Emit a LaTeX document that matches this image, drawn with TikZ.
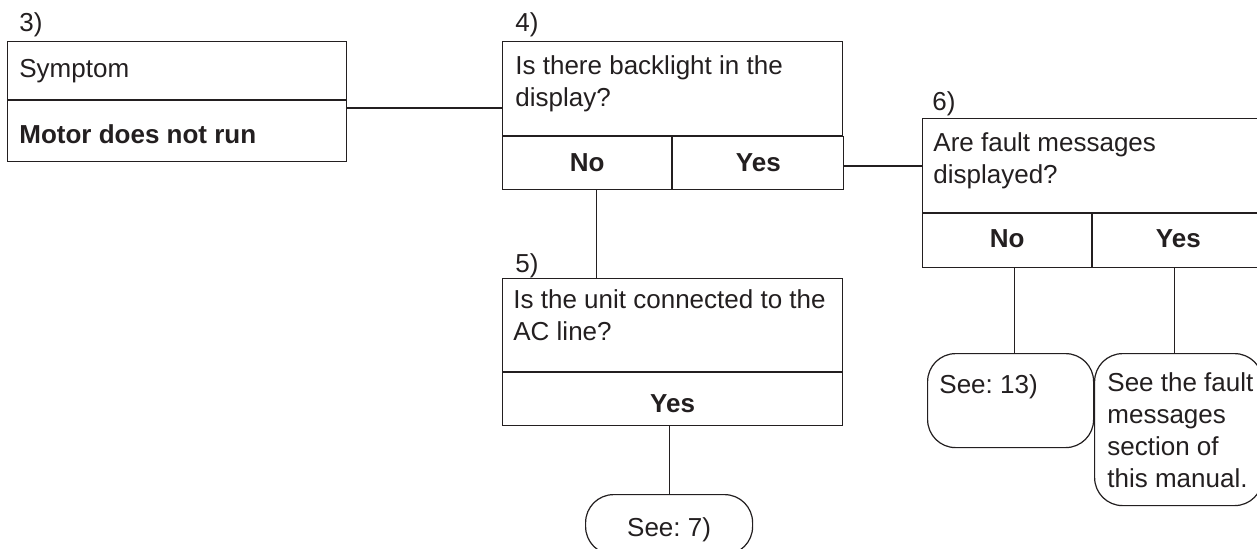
\documentclass[tikz,border=0pt]{standalone}
\usepackage{fontspec}
\setmainfont{Liberation Sans}
\usetikzlibrary{positioning}
\newcommand\flowfont{\fontsize{13pt}{16pt}\selectfont}
\frenchspacing
\definecolor{ink}{HTML}{231F20}
\tikzset{
  frame/.style={draw=ink, line width=0.6pt, inner sep=0pt, anchor=north west},
  endbox/.style={frame, rounded corners=14pt},
  txt/.style={anchor=base west, inner sep=0pt, align=left, text=ink, font=\flowfont},
  ans/.style={anchor=base, inner sep=0pt, text=ink, font=\flowfont\bfseries},
  link/.style={draw=ink, line width=0.6pt},
}

\begin{document}
\begin{tikzpicture}[x=0.5pt, y=-0.5pt]
% --- knobs ---
\def\boxw{170pt}   % width of a question box
\def\cellh{26.5pt} % height of an answer row

\useasboundingbox (0,0) rectangle (1257,548);
\fill[white] (0,0) rectangle (1257,548);
\clip (0,0) rectangle (1257,548);

% --- 3) symptom ---
\node[frame, minimum width=169.5pt, minimum height=29pt] (q3) at (7,41) {};
\node[frame, minimum width=169.5pt, minimum height=30.5pt] (a3) at (q3.south west) {};
\node[txt] (n3) at ([shift={(12,-10)}]q3.north west) {3)};
\node[txt] (t3) at ([shift={(12,36)}]q3.north west) {Symptom};
\node[txt, font=\flowfont\bfseries] (m3) at ([shift={(12,43)}]a3.north west) {Motor does not run};

% --- 4) backlight ---
\node[frame, minimum width=\boxw, minimum height=47pt] (q4) at (502,41) {};
\node[frame, minimum width=84.5pt, minimum height=\cellh] (no4) at (q4.south west) {};
\node[frame, minimum width=85.5pt, minimum height=\cellh] (yes4) at (no4.north east) {};
\node[txt] (n4) at ([shift={(13,-10)}]q4.north west) {4)};
\node[txt] (t4) at ([shift={(13,65)}]q4.north west) {Is there backlight in the\\display?};
\node[ans] at ([shift={(0,35)}]no4.north) {No};
\node[ans] at ([shift={(0,35)}]yes4.north) {Yes};

% --- 5) AC line ---
\node[frame, minimum width=\boxw, minimum height=46.5pt] (q5) at (502,278) {};
\node[frame, minimum width=\boxw, minimum height=\cellh] (yes5) at (q5.south west) {};
\node[txt] (n5) at ([shift={(13,-6)}]q5.north west) {5)};
\node[txt] (t5) at ([shift={(11,62)}]q5.north west) {Is the unit connected to the\\AC line?};
\node[ans] at ([shift={(0,40)}]yes5.north) {Yes};

% --- 6) fault messages ---
\node[frame, minimum width=\boxw, minimum height=47pt] (q6) at (922,118) {};
\node[frame, minimum width=84.5pt, minimum height=27pt] (no6) at (q6.south west) {};
\node[frame, minimum width=85.5pt, minimum height=27pt] (yes6) at (no6.north east) {};
\node[txt] (n6) at ([shift={(10,-8)}]q6.north west) {6)};
\node[txt] (t6) at ([shift={(11,65)}]q6.north west) {Are fault messages\\displayed?};
\node[ans] at ([shift={(0,34)}]no6.north) {No};
\node[ans] at ([shift={(0,34)}]yes6.north) {Yes};

% --- end boxes ---
\node[endbox, minimum width=83pt, minimum height=47pt] (see13) at (927,353) {};
\node[txt] at ([shift={(12,40)}]see13.north west) {See: 13)};
\node[endbox, minimum width=84pt, minimum height=76pt] (fault) at (1094,353) {};
\node[txt] at ([shift={(13,134)}]fault.north west) {See the fault\\messages\\section of\\this manual.};
\node[endbox, minimum width=83.5pt, minimum height=30pt] (see7) at (585,494) {};
\node[ans, font=\flowfont] at ([shift={(0,42)}]see7.north) {See: 7)};

% --- connectors ---
\coordinate (j34) at (0,108);
\coordinate (j46) at (0,166);
\draw[link] (j34 -| a3.east) -- (j34 -| q4.west);
\draw[link] (j46 -| yes4.east) -- (j46 -| q6.west);
\draw[link] ([xshift=4.5pt]no4.south) -- ([xshift=4.5pt]no4.south |- q5.north);
\draw[link] ([xshift=-1.5pt]yes5.south) -- ([xshift=-1.5pt]yes5.south |- see7.north);
\draw[link] ([xshift=3.5pt]no6.south) -- ([xshift=3.5pt]no6.south |- see13.north);
\draw[link] ([xshift=-2pt]yes6.south) -- ([xshift=-2pt]yes6.south |- fault.north);
\end{tikzpicture}
\end{document}
